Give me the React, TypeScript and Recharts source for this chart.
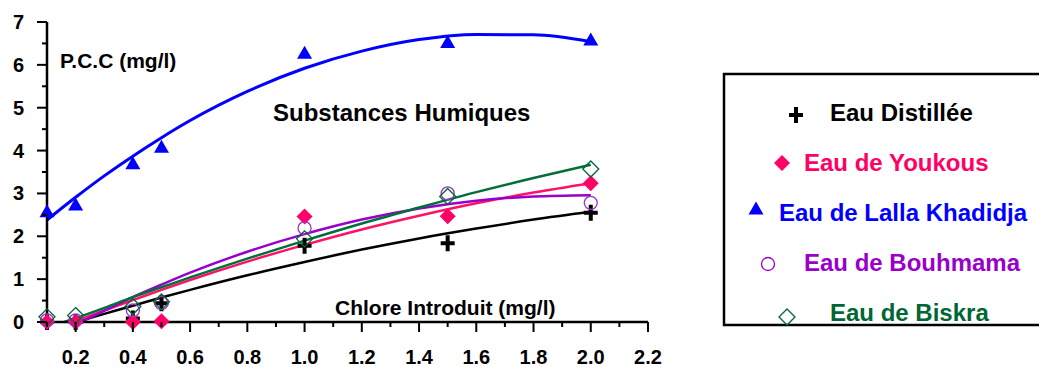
import React from 'react'
import { ComposedChart, Line, Scatter, XAxis, YAxis } from 'recharts'

// chlore introduit (mg/l)
const doses = [0.1, 0.2, 0.4, 0.5, 1.0, 1.5, 2.0]

// P.C.C measured (mg/l)
const distillee = [0.0, 0.0, 0.08, 0.44, 1.78, 1.84, 2.55]
const youkous = [0.0, 0.0, 0.0, 0.02, 2.46, 2.47, 3.24]
const lallaKhadidja = [2.57, 2.73, 3.69, 4.08, 6.27, 6.52, 6.58]
const bouhmama = [0.04, 0.04, 0.27, 0.44, 2.19, 3.0, 2.78]
const biskra = [0.12, 0.15, 0.36, 0.47, 1.94, 2.93, 3.57]

// trend curves
const fitXDistillee = [0.2, 0.3, 0.4, 0.5, 0.6, 0.8, 1.0, 1.2, 1.4, 1.6, 1.8, 2.0]
const fitDistillee = [0, 0.19, 0.38, 0.57, 0.75, 1.09, 1.4, 1.69, 1.95, 2.18, 2.39, 2.57]
const fitXYoukous = [0.195, 0.3, 0.4, 0.5, 0.6, 0.8, 1.0, 1.2, 1.4, 1.6, 1.8, 2.0]
const fitYoukous = [0, 0.27, 0.51, 0.75, 0.98, 1.41, 1.8, 2.16, 2.48, 2.77, 3.02, 3.24]
const fitXLalla = [0.1, 0.2, 0.3, 0.4, 0.5, 0.6, 0.8, 1.0, 1.2, 1.4, 1.6, 1.8, 2.0]
const fitLalla = [2.38, 2.91, 3.41, 3.87, 4.3, 4.7, 5.38, 5.92, 6.32, 6.59, 6.71, 6.7, 6.54]
const fitXBouhmama = [0.22, 0.3, 0.4, 0.5, 0.6, 0.8, 1.0, 1.2, 1.4, 1.6, 1.8, 2.0]
const fitBouhmama = [0, 0.26, 0.58, 0.87, 1.15, 1.64, 2.05, 2.39, 2.65, 2.83, 2.93, 2.96]
const fitXBiskra = [0.16, 0.2, 0.3, 0.4, 0.5, 0.6, 0.8, 1.0, 1.2, 1.4, 1.6, 1.8, 2.0]
const fitBiskra = [0, 0.09, 0.33, 0.58, 0.81, 1.04, 1.48, 1.9, 2.3, 2.67, 3.03, 3.36, 3.67]

const xTicks = [0.1, 0.2, 0.3, 0.4, 0.5, 0.6, 0.7, 0.8, 0.9, 1.0, 1.1, 1.2, 1.3, 1.4, 1.5, 1.6, 1.7, 1.8, 1.9, 2.0, 2.1, 2.2]
const yTicks = [0, 0.5, 1, 1.5, 2, 2.5, 3, 3.5, 4, 4.5, 5, 5.5, 6, 6.5, 7]

const FONT = '"Liberation Sans", Arial, sans-serif'

const pts = (xs: number[], ys: number[]) => xs.map((x, i) => ({ x, y: ys[i] }))

type Kind = 'plus' | 'diamond' | 'triangle' | 'circle' | 'odiamond'

function marker(kind: Kind, color: string, cx: number, cy: number, s = 1) {
    switch (kind) {
        case 'plus':
            return <path d={`M${cx - 7 * s},${cy}H${cx + 7 * s}M${cx},${cy - 8 * s}V${cy + 8 * s}`} stroke={color} strokeWidth={4 * s} fill="none" />
        case 'diamond':
            return <path d={`M${cx},${cy - 8 * s}L${cx + 8 * s},${cy}L${cx},${cy + 8 * s}L${cx - 8 * s},${cy}Z`} fill={color} />
        case 'triangle':
            return <path d={`M${cx},${cy - 7.5 * s}L${cx + 7.5 * s},${cy + 5.5 * s}L${cx - 7.5 * s},${cy + 5.5 * s}Z`} fill={color} />
        case 'circle':
            return <circle cx={cx} cy={cy} r={6.5 * s} fill="none" stroke={color} strokeWidth={1.3} />
        case 'odiamond':
            return <path d={`M${cx},${cy - 8 * s}L${cx + 8 * s},${cy}L${cx},${cy + 8 * s}L${cx - 8 * s},${cy}Z`} fill="none" stroke={color} strokeWidth={1.3} />
    }
}

const shapeOf = (kind: Kind, color: string) => (p: any) => marker(kind, color, p.cx, p.cy)

function XTick(props: any) {
    const { x, y, payload } = props
    const v = payload.value as number
    const major = Math.round(v * 10) % 2 === 0
    return (
        <g>
            <line x1={x} y1={y} x2={x} y2={y + (major ? 10 : 5)} stroke="#000" strokeWidth={2} />
            {major && (
                <text x={x} y={y + 42} textAnchor="middle" fontFamily={FONT} fontWeight="bold" fontSize={20} fill="#000">
                    {v.toFixed(1)}
                </text>
            )}
        </g>
    )
}

function YTick(props: any) {
    const { x, y, payload } = props
    const v = payload.value as number
    const major = v % 1 === 0
    return (
        <g>
            <line x1={x - (major ? 10 : 5)} y1={y} x2={x} y2={y} stroke="#000" strokeWidth={2} />
            {major && (
                <text x={x - 23} y={y + 7} textAnchor="end" fontFamily={FONT} fontWeight="bold" fontSize={20} fill="#000">
                    {v}
                </text>
            )}
        </g>
    )
}

const legendItems: { label: string; color: string; kind: Kind; mx: number; my: number; tx: number }[] = [
    { label: 'Eau Distillée', color: '#000000', kind: 'plus', mx: 796, my: 115, tx: 830 },
    { label: 'Eau de Youkous', color: '#FF0066', kind: 'diamond', mx: 782, my: 163, tx: 804 },
    { label: 'Eau de Lalla Khadidja', color: '#0000FF', kind: 'triangle', mx: 756, my: 209, tx: 779 },
    { label: 'Eau de Bouhmama', color: '#9900CC', kind: 'circle', mx: 768, my: 264, tx: 804 },
    { label: 'Eau de Biskra', color: '#006633', kind: 'odiamond', mx: 787, my: 317, tx: 830 },
]

function ChartLegend() {
    return (
        <g>
            <rect x={724} y={74} width={400} height={251} fill="none" stroke="#000" strokeWidth={2.5} />
            {legendItems.map((it, i) => (
                <g key={it.label}>
                    {marker(it.kind, it.color, it.mx, it.my, 1)}
                    <text x={it.tx} y={121 + i * 50} fontFamily={FONT} fontWeight="bold" fontSize={24} fill={it.color}>
                        {it.label}
                    </text>
                </g>
            ))}
        </g>
    )
}

export default function App() {
    return (
        <div style={{ position: 'absolute', left: 0, top: 0, width: 1039, height: 367, overflow: 'hidden', background: '#fff' }}>
            <ComposedChart width={1039} height={367} margin={{ top: 22, right: 391, bottom: 0, left: 0 }}>
                <XAxis
                    xAxisId={0}
                    dataKey="x"
                    type="number"
                    domain={[0.1, 2.2]}
                    ticks={xTicks}
                    interval={0}
                    height={45}
                    tickSize={0}
                    tickMargin={0}
                    tickLine={false}
                    axisLine={{ stroke: '#000', strokeWidth: 2.5 }}
                    tick={<XTick />}
                />
                <XAxis xAxisId="top" orientation="top" type="number" domain={[0.1, 2.2]} height={0} tick={false} tickLine={false} axisLine={{ stroke: '#000', strokeWidth: 2.5 }} />
                <YAxis
                    yAxisId={0}
                    dataKey="y"
                    type="number"
                    domain={[0, 7]}
                    ticks={yTicks}
                    interval={0}
                    width={47}
                    tickSize={0}
                    tickMargin={0}
                    tickLine={false}
                    axisLine={{ stroke: '#000', strokeWidth: 2.5 }}
                    tick={<YTick />}
                />
                <YAxis yAxisId="right" orientation="right" type="number" domain={[0, 7]} width={0} tick={false} tickLine={false} axisLine={{ stroke: '#000', strokeWidth: 2.5 }} />

                <Line data={pts(fitXDistillee, fitDistillee)} dataKey="y" type="monotone" stroke="#000000" strokeWidth={2.5} dot={false} isAnimationActive={false} />
                <Line data={pts(fitXYoukous, fitYoukous)} dataKey="y" type="monotone" stroke="#FF1166" strokeWidth={2.5} dot={false} isAnimationActive={false} />
                <Line data={pts(fitXBouhmama, fitBouhmama)} dataKey="y" type="monotone" stroke="#9900CC" strokeWidth={2.5} dot={false} isAnimationActive={false} />
                <Line data={pts(fitXBiskra, fitBiskra)} dataKey="y" type="monotone" stroke="#006F3C" strokeWidth={2.5} dot={false} isAnimationActive={false} />
                <Line data={pts(fitXLalla, fitLalla)} dataKey="y" type="monotone" stroke="#0000FF" strokeWidth={3} dot={false} isAnimationActive={false} />

                <Scatter data={pts(doses, lallaKhadidja)} shape={shapeOf('triangle', '#0000FF')} isAnimationActive={false} />
                <Scatter data={pts(doses, distillee)} shape={shapeOf('plus', '#000000')} isAnimationActive={false} />
                <Scatter data={pts(doses, youkous)} shape={shapeOf('diamond', '#FF0066')} isAnimationActive={false} />
                <Scatter data={pts(doses, bouhmama)} shape={shapeOf('circle', '#9933CC')} isAnimationActive={false} />
                <Scatter data={pts(doses, biskra)} shape={shapeOf('odiamond', '#006633')} isAnimationActive={false} />

                <text x={60} y={68} fontFamily={FONT} fontWeight="bold" fontSize={21} fill="#000">P.C.C (mg/l)</text>
                <text x={273} y={121} fontFamily={FONT} fontWeight="bold" fontSize={24} fill="#000">Substances Humiques</text>
                <text x={335} y={315} fontFamily={FONT} fontWeight="bold" fontSize={21} fill="#000">Chlore Introduit (mg/l)</text>
                <ChartLegend />
            </ComposedChart>
        </div>
    )
}
